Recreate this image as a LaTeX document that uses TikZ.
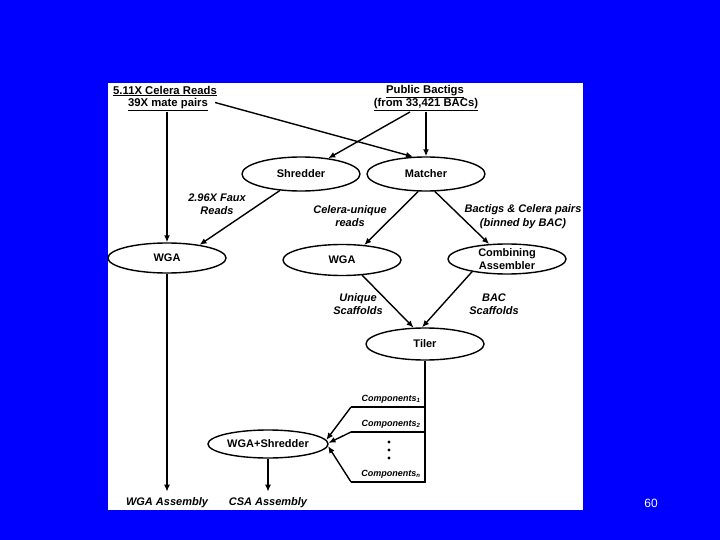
\documentclass[tikz,border=0pt]{standalone}
\usepackage{fontspec}
\setmainfont{Liberation Sans}
\usetikzlibrary{shapes.geometric,arrows.meta}
\definecolor{slideblue}{RGB}{0,0,255}
\begin{document}
\begin{tikzpicture}[x=1pt,y=-1pt,
  proc/.style={ellipse,draw,line width=1.4pt,minimum width=118pt,minimum height=31pt,inner sep=0pt,font=\fontsize{11}{13}\selectfont\bfseries,align=center},
  lbl/.style={font=\fontsize{11}{13.5}\selectfont\bfseries\itshape,align=center,inner sep=1pt},
  head/.style={font=\fontsize{11.3}{13.5}\selectfont\bfseries,inner sep=1pt},
  comp/.style={font=\fontsize{9}{10}\selectfont\bfseries\itshape,inner sep=1pt},
  dotn/.style={circle,fill,inner sep=0pt,minimum size=3.2pt},
  arr/.style={line width=1.4pt,-{Latex[length=7pt,width=6pt]}},
  ln/.style={line width=1.4pt}]
\fill[slideblue] (0,0) rectangle (720,540);
\fill[white] (108,83) rectangle (583,510);

% headings
\node[head] (celA) at (165,91) {\underline{5.11X Celera Reads}};
\node[head] (celB) at (168,104.5) {\underline{39X mate pairs}};
\node[head] (bacA) at (425,92) {\underline{Public Bactigs}};
\node[head] (bacB) at (426,104.5) {\underline{(from 33,421 BACs)}};

% process ellipses
\node[proc,minimum height=34pt] (shred) at (301,174) {Shredder};
\node[proc,minimum height=34pt] (match) at (426,174) {Matcher};
\node[proc,minimum height=30pt] (wgaL) at (167,258) {WGA};
\node[proc] (wgaM) at (342,260) {WGA};
\node[proc,minimum height=30pt,inner ysep=-4pt] (comb) at (507,259) {Combining\\Assembler};
\node[proc,minimum height=32pt] (tiler) at (425,344) {Tiler};
\node[proc,minimum width=120pt,minimum height=28pt] (ws) at (268,444) {WGA+Shredder};

% edge labels
\node[lbl] (faux) at (217,204) {2.96X Faux\\Reads};
\node[lbl] (cu) at (350,216) {Celera-unique\\reads};
\node[lbl] (bc) at (523,216.5) {Bactigs \& Celera pairs\\(binned by BAC)};
\node[lbl] (us) at (358,304) {Unique\\Scaffolds};
\node[lbl] (bs) at (494,304) {BAC\\Scaffolds};

% outputs
\node[lbl] (wgaAsm) at (167,503) {WGA Assembly};
\node[lbl] (csa) at (268,503) {CSA Assembly};

% components
\coordinate (c1) at (351,407);
\coordinate (c2) at (351,432);
\coordinate (cn) at (351,482);
\node[comp] (comp1) at (391,399) {Components\textsubscript{1}};
\node[comp] (comp2) at (391,424) {Components\textsubscript{2}};
\node[comp] (compn) at (391,474) {Components\textsubscript{n}};
\node[dotn] (d1) at (389,442) {};
\node[dotn] (d2) at (389,450) {};
\node[dotn] (d3) at (389,458) {};

% connectors
\draw[arr] (wgaL |- celB.south) -- (wgaL.north);
\draw[arr] ([xshift=6pt,yshift=2pt]celB.east) -- (match.127);
\draw[arr] ([xshift=-16pt]bacB.south) -- (shred.30);
\draw[arr] (bacB.south) -- (match.north);
\draw[arr] (shred.218) -- (wgaL.22);
\draw[arr] (match.246) -- (wgaM.34);
\draw[arr] (match.297) -- (comb.140);
\draw[arr] (wgaM.-37) -- (tiler.125);
\draw[arr] (comb.200) -- (tiler.100);
\draw[arr,shorten >=5pt] (wgaL.south) -- (wgaAsm.north);
\draw[arr,shorten >=5pt] (ws.south) -- (csa.north);

\draw[ln] (tiler.south) -- (tiler.south |- cn) -- (cn);
\draw[ln] (tiler.south |- c1) -- (c1);
\draw[ln] (tiler.south |- c2) -- (c2);
\draw[arr] (c1) -- (ws.4);
\draw[arr] (c2) -- (ws.1);
\draw[arr] (cn) -- (ws.-2);

% page number
\node[font=\fontsize{12}{14}\selectfont,text=white] (pg) at (651,503) {60};
\end{tikzpicture}
\end{document}
